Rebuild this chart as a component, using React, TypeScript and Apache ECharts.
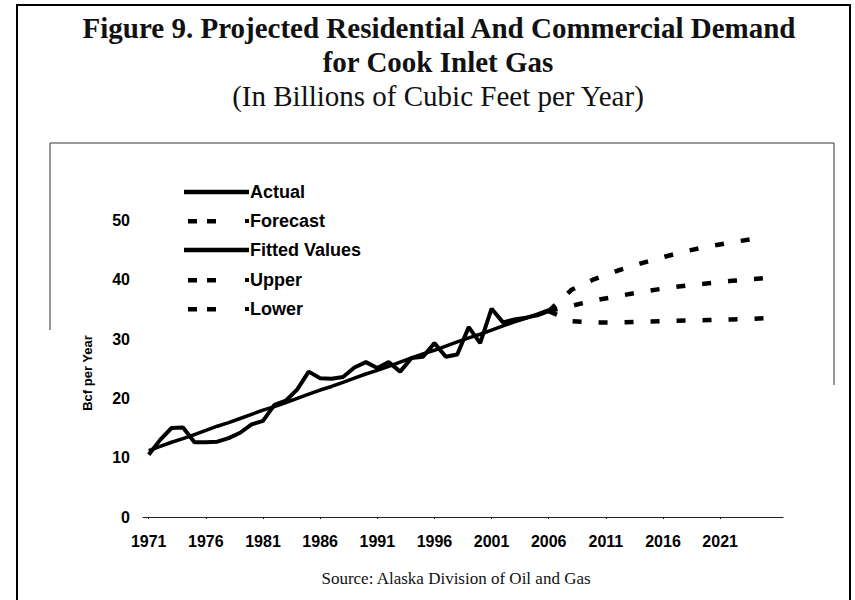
import React, { useEffect, useRef } from "react";
import * as echarts from "echarts";

const years: string[] = Array.from({ length: 56 }, (_, i) => String(1971 + i));
const lastLabeledYear = "2021";

const actualYears = ["1971","1972","1973","1974","1975","1976","1977","1978","1979","1980","1981","1982","1983","1984","1985","1986","1987","1988","1989","1990","1991","1992","1993","1994","1995","1996","1997","1998","1999","2000","2001","2002","2003","2004","2005","2006"];
const actualValues = [10.5, 13.0, 15.0, 15.1, 12.6, 12.6, 12.7, 13.3, 14.2, 15.6, 16.2, 18.9, 19.6, 21.5, 24.5, 23.4, 23.3, 23.6, 25.2, 26.1, 25.1, 26.1, 24.5, 26.8, 27.0, 29.3, 27.0, 27.4, 32.0, 29.3, 35.1, 32.8, 33.3, 33.6, 34.0, 34.7];
const fittedValues = [11.2, 11.9, 12.6, 13.2, 13.9, 14.6, 15.3, 15.9, 16.6, 17.3, 18.0, 18.6, 19.3, 20.0, 20.7, 21.4, 22.0, 22.7, 23.4, 24.1, 24.7, 25.4, 26.1, 26.8, 27.5, 28.1, 28.8, 29.5, 30.2, 30.8, 31.5, 32.2, 32.9, 33.5, 34.2, 34.9];

const forecastYears = ["2006","2008","2010","2012","2014","2016","2018","2020","2022","2024","2025"];
const forecastValues = [34.7, 35.6, 36.5, 37.2, 37.9, 38.5, 39.0, 39.4, 39.8, 40.1, 40.3];
const upperValues = [34.7, 38.3, 40.1, 41.5, 42.7, 43.8, 44.8, 45.6, 46.3, 46.9, 47.2];
const lowerValues = [34.7, 33.0, 32.8, 32.8, 32.9, 33.0, 33.1, 33.2, 33.3, 33.4, 33.5];

const yTicks = [0, 10, 20, 30, 40, 50];
const yAxisTitle = "Bcf per Year";
const legendNames = ["Actual", "Forecast", "Fitted Values", "Upper", "Lower"];
const legendSolid = [true, false, true, false, false];

const titleLines = [
  "Figure 9. Projected Residential And Commercial Demand",
  "for Cook Inlet Gas",
  "(In Billions of Cubic Feet per Year)",
];
const sourceText = "Source: Alaska Division of Oil and Gas";

const pairs = (xs: string[], vs: number[]) => xs.map((x, i) => [x, vs[i]]);

export default function App() {
  const ref = useRef<HTMLDivElement>(null);
  useEffect(() => {
    if (!ref.current) return;
    const chart = echarts.init(ref.current, undefined, { renderer: "svg" });
    const sans = "Liberation Sans, Arial, sans-serif";
    const serif = "Liberation Serif, Times New Roman, serif";
    const dash = [9, 17];
    const lastIdx = years.indexOf(lastLabeledYear);
    const showLabel = (idx: number) => idx % 5 === 0 && idx <= lastIdx;

    const legendGraphics: any[] = [];
    const rowY = [192, 221, 250, 280, 309];
    legendNames.forEach((name, i) => {
      const y = rowY[i];
      if (legendSolid[i]) {
        legendGraphics.push({
          type: "line",
          shape: { x1: 184, y1: y, x2: 249, y2: y },
          style: { stroke: "#000", lineWidth: 4.5 },
        });
      } else {
        legendGraphics.push({ type: "rect", shape: { x: 188, y: y - 2, width: 9, height: 4.5 }, style: { fill: "#000" } });
        legendGraphics.push({ type: "rect", shape: { x: 207, y: y - 2, width: 9, height: 4.5 }, style: { fill: "#000" } });
        legendGraphics.push({ type: "rect", shape: { x: 245, y: y - 2, width: 4, height: 4 }, style: { fill: "#000" } });
      }
      legendGraphics.push({
        type: "text",
        x: 250,
        y,
        style: { text: name, font: `bold 18px ${sans}`, fill: "#000", textAlign: "left", textVerticalAlign: "middle" },
      });
    });

    chart.setOption({
      animation: false,
      backgroundColor: "#fff",
      grid: { left: 143, right: 72, top: 161, bottom: 83, containLabel: false },
      xAxis: {
        type: "category",
        data: years,
        boundaryGap: true,
        axisLine: { show: true, lineStyle: { color: "#222", width: 1 } },
        axisTick: { show: true, interval: (idx: number) => showLabel(idx), length: 2, alignWithLabel: true, lineStyle: { color: "#222" } },
        axisLabel: {
          interval: (idx: number) => showLabel(idx),
          margin: 16,
          color: "#000",
          fontFamily: sans,
          fontWeight: "bold",
          fontSize: 16,
        },
        splitLine: { show: false },
      },
      yAxis: {
        type: "value",
        min: 0,
        max: 60,
        interval: 10,
        axisLine: { show: false },
        axisTick: { show: false },
        axisLabel: {
          margin: 13,
          color: "#000",
          fontFamily: sans,
          fontWeight: "bold",
          fontSize: 16,
          formatter: (v: number) => (yTicks.includes(v) ? String(v) : ""),
        },
        splitLine: { show: false },
      },
      series: [
        {
          name: "Actual",
          type: "line",
          data: pairs(actualYears, actualValues),
          showSymbol: false,
          symbol: "none",
          lineStyle: { color: "#000", width: 4 },
        },
        {
          name: "Fitted Values",
          type: "line",
          data: pairs(actualYears, fittedValues),
          showSymbol: false,
          symbol: "none",
          lineStyle: { color: "#000", width: 3.5 },
        },
        {
          name: "Forecast",
          type: "line",
          data: pairs(forecastYears, forecastValues),
          showSymbol: false,
          symbol: "none",
          lineStyle: { color: "#000", width: 4.5, type: dash },
        },
        {
          name: "Upper",
          type: "line",
          data: pairs(forecastYears, upperValues),
          showSymbol: false,
          symbol: "none",
          lineStyle: { color: "#000", width: 4.5, type: dash },
        },
        {
          name: "Lower",
          type: "line",
          data: pairs(forecastYears, lowerValues),
          showSymbol: false,
          symbol: "none",
          lineStyle: { color: "#000", width: 4.5, type: dash },
        },
      ],
      graphic: [
        {
          type: "rect",
          shape: { x: 17, y: 5, width: 833, height: 620 },
          style: { fill: "none", stroke: "#000", lineWidth: 2 },
          silent: true,
        },
        {
          type: "polyline",
          shape: { points: [[50, 330], [50, 143], [834, 143], [834, 385]] },
          style: { fill: "none", stroke: "#333", lineWidth: 1 },
          silent: true,
        },
        {
          type: "text",
          x: 87,
          y: 373,
          rotation: Math.PI / 2,
          style: { text: yAxisTitle, font: `bold 13px ${sans}`, fill: "#000", textAlign: "center", textVerticalAlign: "middle" },
        },
        {
          type: "text",
          x: 439,
          y: 28,
          style: { text: titleLines[0], font: `bold 29px ${serif}`, fill: "#111", textAlign: "center", textVerticalAlign: "middle" },
        },
        {
          type: "text",
          x: 438,
          y: 62,
          style: { text: titleLines[1], font: `bold 29px ${serif}`, fill: "#111", textAlign: "center", textVerticalAlign: "middle" },
        },
        {
          type: "text",
          x: 438,
          y: 96,
          style: { text: titleLines[2], font: `29px ${serif}`, fill: "#111", textAlign: "center", textVerticalAlign: "middle" },
        },
        {
          type: "text",
          x: 456,
          y: 578,
          style: { text: sourceText, font: `17px ${serif}`, fill: "#111", textAlign: "center", textVerticalAlign: "middle" },
        },
        ...legendGraphics,
      ],
    });
    return () => chart.dispose();
  }, []);
  return (
    <div
      ref={ref}
      style={{ position: "absolute", left: 0, top: 0, width: 855, height: 600, background: "#fff" }}
    />
  );
}
